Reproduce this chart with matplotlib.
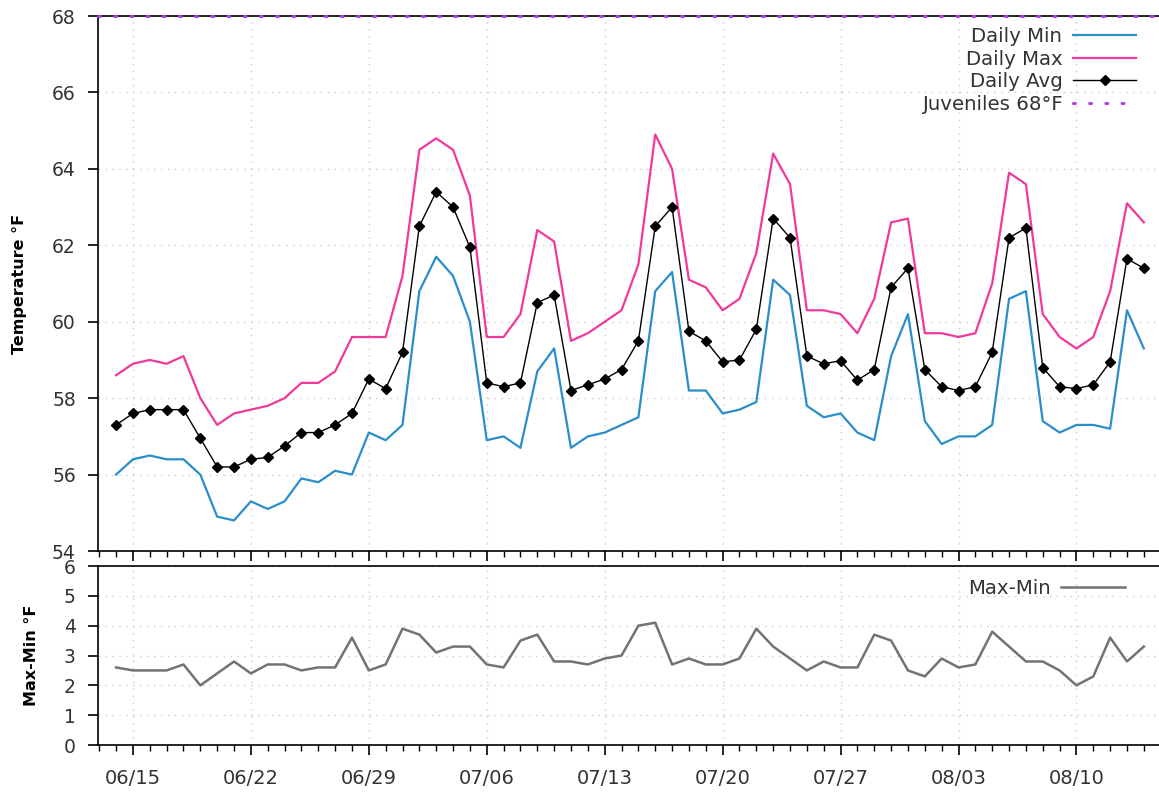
import matplotlib

matplotlib.use("Agg")
import matplotlib.dates as mdates
import matplotlib.pyplot as plt
import pandas as pd
from matplotlib.ticker import FixedLocator, MultipleLocator

# one value per day, 06/14 .. 08/14
START_DATE = "2024-06-14"
MAJOR_START = "2024-06-15"

daily_min = [
    56.0, 56.4, 56.5, 56.4, 56.4, 56.0, 54.9, 54.8, 55.3, 55.1,
    55.3, 55.9, 55.8, 56.1, 56.0, 57.1, 56.9, 57.3, 60.8, 61.7,
    61.2, 60.0, 56.9, 57.0, 56.7, 58.7, 59.3, 56.7, 57.0, 57.1,
    57.3, 57.5, 60.8, 61.3, 58.2, 58.2, 57.6, 57.7, 57.9, 61.1,
    60.7, 57.8, 57.5, 57.6, 57.1, 56.9, 59.1, 60.2, 57.4, 56.8,
    57.0, 57.0, 57.3, 60.6, 60.8, 57.4, 57.1, 57.3, 57.3, 57.2,
    60.3, 59.3,
]
daily_max = [
    58.6, 58.9, 59.0, 58.9, 59.1, 58.0, 57.3, 57.6, 57.7, 57.8,
    58.0, 58.4, 58.4, 58.7, 59.6, 59.6, 59.6, 61.2, 64.5, 64.8,
    64.5, 63.3, 59.6, 59.6, 60.2, 62.4, 62.1, 59.5, 59.7, 60.0,
    60.3, 61.5, 64.9, 64.0, 61.1, 60.9, 60.3, 60.6, 61.8, 64.4,
    63.6, 60.3, 60.3, 60.2, 59.7, 60.6, 62.6, 62.7, 59.7, 59.7,
    59.6, 59.7, 61.0, 63.9, 63.6, 60.2, 59.6, 59.3, 59.6, 60.8,
    63.1, 62.6,
]
daily_avg = [
    57.3, 57.6, 57.7, 57.7, 57.7, 56.95, 56.2, 56.2, 56.4, 56.45,
    56.75, 57.1, 57.1, 57.3, 57.6, 58.5, 58.25, 59.2, 62.5, 63.4,
    63.0, 61.95, 58.4, 58.3, 58.4, 60.5, 60.7, 58.2, 58.35, 58.5,
    58.75, 59.5, 62.5, 63.0, 59.75, 59.5, 58.95, 59.0, 59.8, 62.7,
    62.2, 59.1, 58.9, 58.98, 58.47, 58.75, 60.9, 61.4, 58.75, 58.3,
    58.2, 58.3, 59.2, 62.2, 62.45, 58.8, 58.3, 58.25, 58.35, 58.95,
    61.65, 61.4,
]
max_min = [
    2.6, 2.5, 2.5, 2.5, 2.7, 2.0, 2.4, 2.8, 2.4, 2.7,
    2.7, 2.5, 2.6, 2.6, 3.6, 2.5, 2.7, 3.9, 3.7, 3.1,
    3.3, 3.3, 2.7, 2.6, 3.5, 3.7, 2.8, 2.8, 2.7, 2.9,
    3.0, 4.0, 4.1, 2.7, 2.9, 2.7, 2.7, 2.9, 3.9, 3.3,
    2.9, 2.5, 2.8, 2.6, 2.6, 3.7, 3.5, 2.5, 2.3, 2.9,
    2.6, 2.7, 3.8, 3.3, 2.8, 2.8, 2.5, 2.0, 2.3, 3.6,
    2.8, 3.3,
]
juvenile_limit = 68

BLUE = "#2a8ecb"
PINK = "#f0399b"
GRAY = "#737373"
PURPLE = "#b03cf0"
TEXT = "#333333"

dates = pd.date_range(START_DATE, periods=len(daily_min), freq="D")
majors = pd.date_range(MAJOR_START, periods=9, freq="7D")

plt.rcParams["font.family"] = ["DejaVu Sans"]
plt.rcParams["text.color"] = TEXT
plt.rcParams["xtick.color"] = "black"
plt.rcParams["ytick.color"] = "black"
plt.rcParams["xtick.labelcolor"] = TEXT
plt.rcParams["ytick.labelcolor"] = TEXT

fig = plt.figure(figsize=(11.59, 7.98), dpi=100)
ax = fig.add_axes([0.0846, 0.3095, 0.9154, 0.6704])
ax2 = fig.add_axes([0.0846, 0.0664, 0.9154, 0.2243], sharex=ax)

ax.plot(dates, daily_min, color=BLUE, lw=1.6, label="Daily Min")
ax.plot(dates, daily_max, color=PINK, lw=1.6, label="Daily Max")
ax.plot(dates, daily_avg, color="black", lw=1.0, marker="D", ms=5.3,
        label="Daily Avg")
ax.axhline(juvenile_limit, color=PURPLE, lw=2.2, ls=(0, (0.6, 4.7)),
           dash_capstyle="round", zorder=5, clip_on=False,
           label="Juveniles 68°F")

ax2.plot(dates, max_min, color=GRAY, lw=1.8, label="Max-Min")

x0 = mdates.date2num(dates[0]) - 1.07
x1 = mdates.date2num(dates[0]) + 61.9
ax.set_xlim(x0, x1)
ax.set_ylim(54, 68)
ax2.set_ylim(0, 6)

for a in (ax, ax2):
    a.spines["right"].set_visible(False)
    for s in ("left", "top", "bottom"):
        a.spines[s].set_linewidth(1.2)
    a.xaxis.set_major_locator(FixedLocator(mdates.date2num(majors)))
    a.xaxis.set_minor_locator(mdates.DayLocator())
    a.tick_params(axis="x", which="major", length=7, width=1.2, direction="out")
    a.tick_params(axis="x", which="minor", length=4, width=1.0, direction="out")
    a.tick_params(axis="y", which="major", length=7, width=1.2, direction="out",
                  labelsize=13.5, pad=9)
    a.grid(True, which="major", color="#cccccc", ls=(0, (1, 4)), lw=1.0)

ax.yaxis.set_major_locator(MultipleLocator(2))
ax2.yaxis.set_major_locator(MultipleLocator(1))
ax.tick_params(axis="x", labelbottom=False)
ax2.xaxis.set_major_formatter(mdates.DateFormatter("%m/%d"))
ax2.tick_params(axis="x", which="major", labelsize=14, pad=10)

ax.set_ylabel("Temperature °F", fontsize=11.5, fontweight="bold")
ax2.set_ylabel("Max-Min °F", fontsize=11.5, fontweight="bold")
ax.yaxis.set_label_coords(-0.0665, 0.5)
ax2.yaxis.set_label_coords(-0.0555, 0.5)

leg = ax.legend(loc="upper right", frameon=False, markerfirst=False,
                fontsize=14.2, handlelength=3.2, labelspacing=0.18,
                handletextpad=0.55, borderaxespad=0.0,
                bbox_to_anchor=(0.986, 0.994))
leg2 = ax2.legend(loc="upper right", frameon=False, markerfirst=False,
                  fontsize=14.2, handlelength=3.2, handletextpad=0.55,
                  borderaxespad=0.0, bbox_to_anchor=(0.975, 0.97))

fig.savefig("out.png", dpi=100)
